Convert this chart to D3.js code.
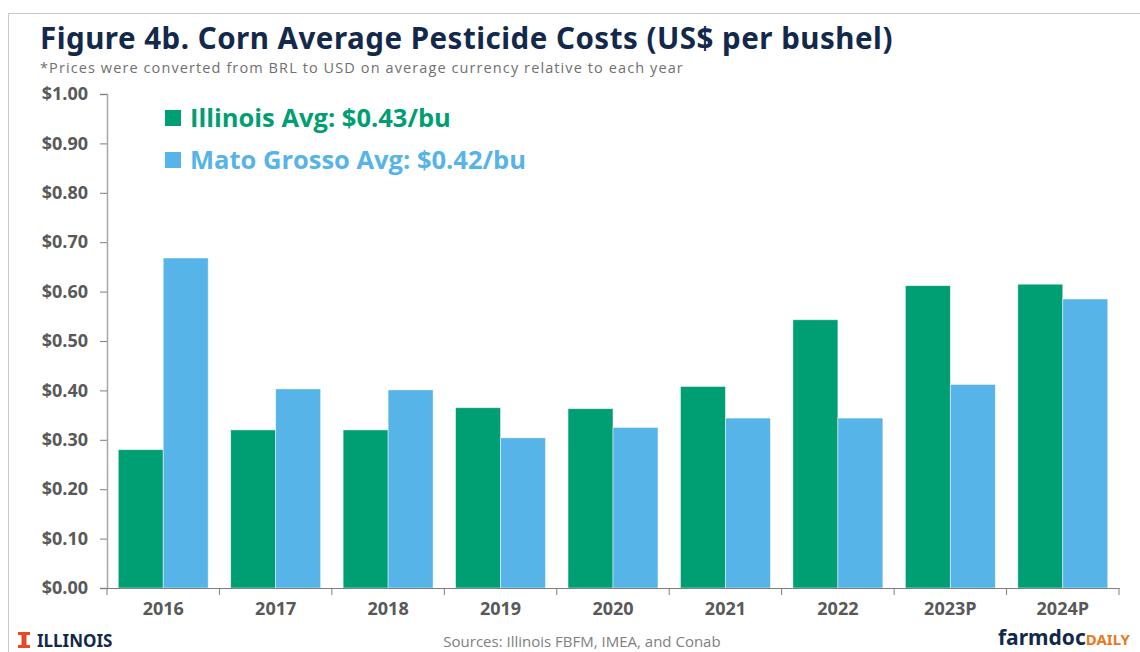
<!DOCTYPE html>
<html>
<head>
<meta charset="utf-8">
<script src="https://cdn.jsdelivr.net/npm/d3@7"></script>
<style>
  body { margin: 0; background: #fff; }
  svg { display: block; }
</style>
</head>
<body>
<svg id="chart"></svg>
<script>
// data
var years = ["2016", "2017", "2018", "2019", "2020", "2021", "2022", "2023P", "2024P"];
var illinois = [0.28, 0.32, 0.32, 0.365, 0.363, 0.408, 0.543, 0.612, 0.615];
var matoGrosso = [0.668, 0.403, 0.401, 0.304, 0.325, 0.344, 0.344, 0.412, 0.585];
var yTicks = [0, 0.1, 0.2, 0.3, 0.4, 0.5, 0.6, 0.7, 0.8, 0.9, 1.0];
var seriesNames = ["Illinois Avg: $0.43/bu", "Mato Grosso Avg: $0.42/bu"];

var W = 1140, H = 652;
var margin = { top: 94, right: 21, bottom: 64, left: 107 };
var w = W - margin.left - margin.right,
    h = H - margin.top - margin.bottom;
var colors = ["#009E73", "#56B4E9"];
var textFont = "'Open Sans', 'Noto Sans', sans-serif";

var svg = d3.select("#chart").attr("width", W).attr("height", H);

// outer frame
svg.append("path")
  .attr("d", "M8.5," + H + "V13.5H" + W)
  .attr("fill", "none").attr("stroke", "#c8c8c8").attr("stroke-width", 1);

// title + note
svg.append("text")
  .attr("x", 40).attr("y", 49)
  .attr("font-family", "'Noto Sans', sans-serif")
  .attr("font-weight", 700).attr("font-size", 29.5)
  .attr("letter-spacing", 0.5)
  .attr("fill", "#13294B")
  .text("Figure 4b. Corn Average Pesticide Costs (US$ per bushel)");
svg.append("text")
  .attr("x", 40).attr("y", 73)
  .attr("font-family", textFont).attr("font-size", 14.5)
  .attr("letter-spacing", 1.1)
  .attr("fill", "#707070")
  .text("*Prices were converted from BRL to USD on average currency relative to each year");

var g = svg.append("g").attr("transform", "translate(" + margin.left + "," + margin.top + ")");

var x0 = d3.scaleBand().domain(years).range([0, w]).paddingInner(0.2).paddingOuter(0.1);
var x1 = d3.scaleBand().domain([0, 1]).range([0, x0.bandwidth()]);
var y = d3.scaleLinear().domain([0, 1]).range([h, 0]);

var rows = years.map(function (yr, i) { return { year: yr, vals: [illinois[i], matoGrosso[i]] }; });

var groups = g.selectAll(".grp").data(rows).enter().append("g")
  .attr("class", "grp")
  .attr("transform", function (d) { return "translate(" + x0(d.year) + ",0)"; });

groups.selectAll("rect")
  .data(function (d) { return d.vals; })
  .enter().append("rect")
  .attr("x", function (d, i) { return x1(i); })
  .attr("width", x1.bandwidth())
  .attr("y", function (d) { return y(d); })
  .attr("height", function (d) { return h - y(d); })
  .attr("fill", function (d, i) { return colors[i]; })
  .attr("stroke", "#ffffff").attr("stroke-opacity", 0.6).attr("stroke-width", 0.8);

// y axis
var yAxis = g.append("g")
  .call(d3.axisLeft(y).tickValues(yTicks).tickFormat(d3.format("$.2f")).tickSize(7).tickPadding(12));
// x axis: ticks at band boundaries
var xAxis = g.append("g").attr("transform", "translate(0," + h + ")")
  .call(d3.axisBottom(x0).tickSize(0).tickPadding(14));
var step = x0.step();
xAxis.selectAll(".bnd").data(d3.range(years.length + 1)).enter().append("line")
  .attr("x1", function (d) { return d * step; }).attr("x2", function (d) { return d * step; })
  .attr("y1", 0).attr("y2", 7).attr("stroke", "#7f7f7f");

[yAxis, xAxis].forEach(function (ax) {
  ax.select(".domain").attr("stroke", "#a6a6a6").attr("stroke-width", 1.5);
  ax.selectAll(".tick line").attr("stroke", "#7f7f7f");
  ax.selectAll("text")
    .attr("font-family", textFont).attr("font-weight", 700)
    .attr("font-size", 18).attr("fill", "#595959");
});
xAxis.select(".domain").attr("stroke", "#7f7f7f").attr("stroke-width", 1);

// legend
var legend = svg.append("g").attr("transform", "translate(165,110)");
seriesNames.forEach(function (name, i) {
  var lg = legend.append("g").attr("transform", "translate(0," + i * 42 + ")");
  lg.append("rect").attr("width", 16).attr("height", 16).attr("fill", colors[i]);
  lg.append("text").attr("x", 25).attr("y", 17)
    .attr("font-family", textFont).attr("font-weight", 700)
    .attr("font-size", 25.5).attr("fill", colors[i])
    .text(name);
});

// footer
var logo = svg.append("g").attr("transform", "translate(18,632)");
logo.append("path")
  .attr("d", "M0,0H12V3H8.5V13H12V16H0V13H3.5V3H0Z")
  .attr("fill", "#E84A27");
logo.append("text").attr("x", 19).attr("y", 15)
  .attr("font-family", "'Noto Sans', sans-serif").attr("font-weight", 700)
  .attr("font-size", 17).attr("fill", "#13294B").text("ILLINOIS");

svg.append("text")
  .attr("x", 582).attr("y", 647).attr("text-anchor", "middle")
  .attr("font-family", textFont).attr("font-size", 15).attr("fill", "#808080")
  .text("Sources: Illinois FBFM, IMEA, and Conab");

var brand = svg.append("text")
  .attr("x", 1130).attr("y", 645).attr("text-anchor", "end")
  .attr("font-family", "'Noto Sans', sans-serif").attr("font-weight", 700);
brand.append("tspan").attr("font-size", 21).attr("fill", "#13294B").text("farmdoc");
brand.append("tspan").attr("font-size", 15).attr("fill", "#E87722").text("DAILY");
</script>
</body>
</html>
